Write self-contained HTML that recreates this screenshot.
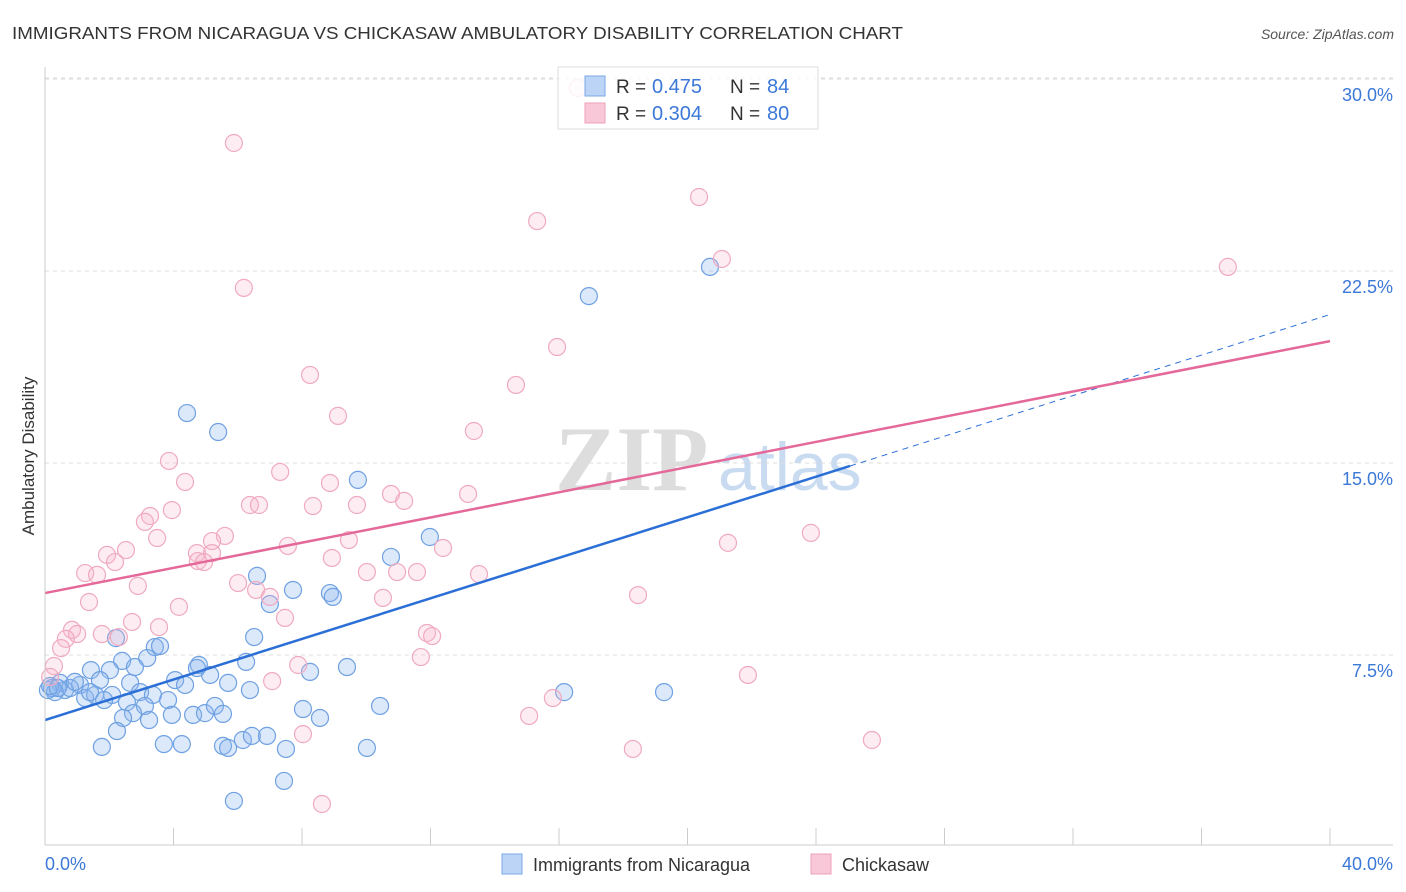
<!DOCTYPE html>
<html><head><meta charset="utf-8"><style>
body{margin:0;background:#fff;font-family:"Liberation Sans",sans-serif;}
svg{display:block}
</style></head><body>
<svg id="chart" width="1406" height="892">
<text x="12" y="39" font-size="17.5" fill="#333" textLength="891" lengthAdjust="spacingAndGlyphs">IMMIGRANTS FROM NICARAGUA VS CHICKASAW AMBULATORY DISABILITY CORRELATION CHART</text>
<text x="1394" y="39" font-size="14" fill="#555" font-style="italic" text-anchor="end">Source: ZipAtlas.com</text>
<text transform="translate(34,456) rotate(-90)" font-size="17" fill="#333" text-anchor="middle">Ambulatory Disability</text>
<g><text x="555" y="490" font-size="92" font-family="Liberation Serif" fill="#ddd" font-weight="bold">ZIP</text><text x="718" y="490" font-size="68" fill="#c9dbf1">atlas</text></g>
<g id="grid"></g><g id="marks"></g><g id="lines"></g>
<line x1="45" y1="67" x2="45" y2="845" stroke="#ccc"/>
<line x1="45" y1="845" x2="1393" y2="845" stroke="#ccc"/>
<text x="45" y="870" font-size="18" fill="#3b78d8">0.0%</text>
<text x="1393" y="870" font-size="18" fill="#3b78d8" text-anchor="end">40.0%</text>
<g>
<rect x="558" y="67" width="260" height="62" fill="rgba(255,255,255,0.85)" stroke="#ddd"/>
<rect x="585" y="76" width="20" height="20" fill="#bcd4f5" stroke="#7aa8e6"/>
<rect x="585" y="103" width="20" height="20" fill="#f8c8d8" stroke="#eea0b8"/>
<text x="616" y="93" font-size="19" fill="#333">R =</text><text x="652" y="93" font-size="20" fill="#3b78d8">0.475</text>
<text x="730" y="93" font-size="19" fill="#333">N =</text><text x="767" y="93" font-size="20" fill="#3b78d8">84</text>
<text x="616" y="120" font-size="19" fill="#333">R =</text><text x="652" y="120" font-size="20" fill="#3b78d8">0.304</text>
<text x="730" y="120" font-size="19" fill="#333">N =</text><text x="767" y="120" font-size="20" fill="#3b78d8">80</text>
</g>
<g>
<rect x="502" y="854" width="20" height="20" fill="#bcd4f5" stroke="#7aa8e6"/>
<text x="533" y="871" font-size="18" fill="#333">Immigrants from Nicaragua</text>
<rect x="811" y="854" width="20" height="20" fill="#f8c8d8" stroke="#eea0b8"/>
<text x="842" y="871" font-size="18" fill="#333">Chickasaw</text>
</g>
</svg>
<script>
const yTicks=[7.5,15,22.5,30];
const yTickLabels=["7.5%","15.0%","22.5%","30.0%"];
const xTicks=[0,4,8,12,16,20,24,28,32,36,40];
const blueX=[4.42,5.39,16.93,20.70,9.74,11.98,10.77,6.60,7.72,7.00,8.87,8.96,6.51,2.21,3.42,3.58,3.18,2.40,1.43,2.02,2.80,4.79,4.73,6.26,8.25,9.40,4.05,5.14,4.36,5.70,6.38,2.65,1.71,1.09,0.47,0.62,0.22,0.31,0.78,1.25,1.56,2.09,2.96,3.36,3.83,2.55,3.11,2.74,2.43,3.24,3.95,4.61,4.98,5.29,5.54,8.03,8.56,10.43,16.16,19.27,2.24,1.77,3.70,4.26,5.54,5.70,6.16,6.44,6.91,7.50,10.02,5.88,7.44,0.09,0.16,0.40,0.93,1.40,1.84];
const blueY=[16.95,16.21,21.52,22.66,14.34,12.11,11.33,10.59,10.04,9.49,9.92,9.77,8.20,8.16,7.81,7.85,7.38,7.27,6.91,6.91,7.03,7.11,6.99,7.23,6.84,7.03,6.52,6.72,6.33,6.41,6.13,6.41,6.52,6.33,6.41,6.13,6.21,6.05,6.21,5.82,5.94,5.94,6.05,5.94,5.74,5.66,5.51,5.23,5.04,4.96,5.16,5.16,5.23,5.51,5.20,5.39,5.04,5.51,6.05,6.05,4.53,3.91,4.02,4.02,3.95,3.87,4.18,4.34,4.34,3.83,3.87,1.80,2.58,6.13,6.29,6.21,6.45,6.05,5.74];
const pinkX=[5.88,6.19,16.59,20.36,15.32,21.07,36.82,15.94,8.25,14.66,9.12,13.35,3.86,7.32,4.36,8.87,10.77,13.17,6.38,6.66,11.18,8.34,9.71,3.95,3.27,3.11,5.60,3.49,5.20,9.46,7.56,12.39,2.52,1.93,4.73,5.20,4.76,2.18,4.95,21.26,23.84,8.93,1.25,1.62,13.51,10.02,10.96,11.58,6.01,6.57,2.89,7.00,10.52,18.46,1.37,4.17,2.71,3.55,0.84,1.00,1.77,2.30,0.65,7.47,0.50,11.89,12.05,7.88,11.70,0.28,21.88,7.07,0.16,8.03,15.07,15.81,18.30,25.74,8.62];
const pinkY=[27.50,21.84,29.65,25.39,24.45,22.97,22.66,19.53,18.44,18.05,16.84,16.25,15.08,14.65,14.26,14.22,13.79,13.79,13.36,13.36,13.52,13.32,13.36,13.16,12.93,12.70,12.15,12.07,11.95,11.99,11.76,11.68,11.60,11.41,11.48,11.48,11.17,11.13,11.13,11.88,12.27,11.29,10.70,10.63,10.66,10.74,10.74,10.74,10.31,10.04,10.20,9.77,9.73,9.84,9.57,9.38,8.79,8.59,8.48,8.32,8.32,8.20,8.13,8.95,7.77,8.36,8.24,7.11,7.42,7.07,6.72,6.48,6.64,4.41,5.12,5.82,3.83,4.18,1.68];
const blueFit=[4.96,0.396], blueSolidEnd=25.06;
const pinkFit=[9.92,0.246];
const NS="http://www.w3.org/2000/svg";
const sx=v=>45+v*32.125, sy=v=>847-v*25.6;
function mk(t,a,p){const e=document.createElementNS(NS,t);for(const k in a)e.setAttribute(k,a[k]);document.getElementById(p).appendChild(e);return e;}
yTicks.forEach((t,i)=>{
 const l=mk('line',{x1:45,x2:1393,y1:sy(t),y2:sy(t),stroke:'#ddd','stroke-dasharray':'4,4'},'grid');
 
 
 const tx=mk('text',{x:1393,y:sy(t)+22,'font-size':18,fill:'#3b78d8','text-anchor':'end'},'grid');
 tx.textContent=yTickLabels[i];
 
 
});
mk('line',{x1:45,x2:1393,y1:78,y2:78,stroke:'#ddd','stroke-dasharray':'4,4'},'grid');
xTicks.forEach(t=>{
 const l=mk('line',{x1:sx(t),x2:sx(t),y1:828,y2:845,stroke:'#ccc'},'grid');
 
 
});
blueX.forEach((x,i)=>{
 const c=mk('circle',{cx:sx(x),cy:sy(blueY[i]),r:8.5,fill:'rgba(140,182,238,0.3)',stroke:'#6fa1e2','stroke-width':1.2},'marks');
 
 
});
pinkX.forEach((x,i)=>{
 const c=mk('circle',{cx:sx(x),cy:sy(pinkY[i]),r:8.5,fill:'rgba(247,180,202,0.25)',stroke:'#f0aac0','stroke-width':1.2},'marks');
 
 
});
const b1=mk('line',{x1:sx(0),y1:sy(blueFit[0]),x2:sx(blueSolidEnd),y2:sy(blueFit[0]+blueFit[1]*blueSolidEnd),stroke:'#2b6fd6','stroke-width':2.5},'lines');


const b2=mk('line',{x1:sx(blueSolidEnd),y1:sy(blueFit[0]+blueFit[1]*blueSolidEnd),x2:sx(40),y2:sy(blueFit[0]+blueFit[1]*40),stroke:'#2b6fd6','stroke-width':1,'stroke-dasharray':'6,5'},'lines');


const p1=mk('line',{x1:sx(0),y1:sy(pinkFit[0]),x2:sx(40),y2:sy(pinkFit[0]+pinkFit[1]*40),stroke:'#e4689a','stroke-width':2.5},'lines');


</script>
</body></html>
